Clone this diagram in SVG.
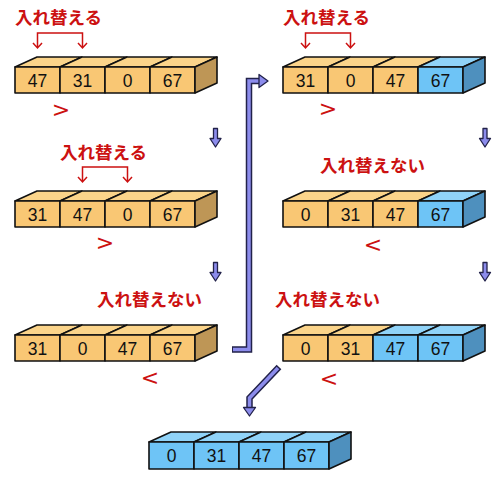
<svg xmlns="http://www.w3.org/2000/svg" xmlns:xlink="http://www.w3.org/1999/xlink" width="500" height="480" viewBox="0 0 500 480">
<style>
.fo{fill:#F9C774;stroke:#111;stroke-width:1.6;stroke-linejoin:round}
.to{fill:#FBD48A;stroke:#111;stroke-width:1.6;stroke-linejoin:round}
.so{fill:#BE9656;stroke:#111;stroke-width:1.6;stroke-linejoin:round}
.fb{fill:#6EC4F6;stroke:#111;stroke-width:1.6;stroke-linejoin:round}
.tb{fill:#90D3F8;stroke:#111;stroke-width:1.6;stroke-linejoin:round}
.sb{fill:#4E90BE;stroke:#111;stroke-width:1.6;stroke-linejoin:round}
.num{font-family:"Liberation Sans",Arial,sans-serif;font-size:17.5px;fill:#111;text-anchor:middle}
.lab{font-family:"Noto Sans CJK JP",sans-serif;font-size:17.5px;font-weight:bold;fill:#CC1111}
.cmp{font-family:"DejaVu Sans",sans-serif;font-size:22px;fill:#CC1111;text-anchor:middle}
.br{fill:none;stroke:#CC1111;stroke-width:1.5;stroke-linejoin:miter}
.pout{fill:none;stroke:#22224A;stroke-width:6.5;stroke-linejoin:miter}
.pin{fill:none;stroke:#8C8CEC;stroke-width:3.5;stroke-linejoin:miter}
.ph{fill:#8C8CEC;stroke:#22224A;stroke-width:1.3;stroke-linejoin:round}
</style>
<defs>
<path id="dn" class="ph" d="M-2,0 H2 V10 H5.5 L0,18.5 L-5.5,10 H-2 Z"/>
<path id="brk" class="br" d="M-22.5,15 V0 H22.5 V15 M-27,10 L-22.5,15 L-18,10 M18,10 L22.5,15 L27,10"/>
</defs>

<g id="arr-L1" transform="translate(15,67)">
<polygon class="to" points="0,0 22,-10 67,-10 45,0"/><polygon class="to" points="45,0 67,-10 112,-10 90,0"/><polygon class="to" points="90,0 112,-10 157,-10 135,0"/><polygon class="to" points="135,0 157,-10 202,-10 180,0"/>
<rect class="fo" x="0" y="0" width="45" height="26"/><rect class="fo" x="45" y="0" width="45" height="26"/><rect class="fo" x="90" y="0" width="45" height="26"/><rect class="fo" x="135" y="0" width="45" height="26"/>
<polygon class="so" points="180,0 202,-10 202,16 180,26"/>
<text class="num" x="22.5" y="20">47</text><text class="num" x="67.5" y="20">31</text><text class="num" x="112.5" y="20">0</text><text class="num" x="157.5" y="20">67</text>
</g>

<g id="arr-L2" transform="translate(15,201)">
<polygon class="to" points="0,0 22,-10 67,-10 45,0"/><polygon class="to" points="45,0 67,-10 112,-10 90,0"/><polygon class="to" points="90,0 112,-10 157,-10 135,0"/><polygon class="to" points="135,0 157,-10 202,-10 180,0"/>
<rect class="fo" x="0" y="0" width="45" height="26"/><rect class="fo" x="45" y="0" width="45" height="26"/><rect class="fo" x="90" y="0" width="45" height="26"/><rect class="fo" x="135" y="0" width="45" height="26"/>
<polygon class="so" points="180,0 202,-10 202,16 180,26"/>
<text class="num" x="22.5" y="20">31</text><text class="num" x="67.5" y="20">47</text><text class="num" x="112.5" y="20">0</text><text class="num" x="157.5" y="20">67</text>
</g>

<g id="arr-L3" transform="translate(15,335)">
<polygon class="to" points="0,0 22,-10 67,-10 45,0"/><polygon class="to" points="45,0 67,-10 112,-10 90,0"/><polygon class="to" points="90,0 112,-10 157,-10 135,0"/><polygon class="to" points="135,0 157,-10 202,-10 180,0"/>
<rect class="fo" x="0" y="0" width="45" height="26"/><rect class="fo" x="45" y="0" width="45" height="26"/><rect class="fo" x="90" y="0" width="45" height="26"/><rect class="fo" x="135" y="0" width="45" height="26"/>
<polygon class="so" points="180,0 202,-10 202,16 180,26"/>
<text class="num" x="22.5" y="20">31</text><text class="num" x="67.5" y="20">0</text><text class="num" x="112.5" y="20">47</text><text class="num" x="157.5" y="20">67</text>
</g>

<g id="arr-R1" transform="translate(283,67)">
<polygon class="to" points="0,0 22,-10 67,-10 45,0"/><polygon class="to" points="45,0 67,-10 112,-10 90,0"/><polygon class="to" points="90,0 112,-10 157,-10 135,0"/><polygon class="tb" points="135,0 157,-10 202,-10 180,0"/>
<rect class="fo" x="0" y="0" width="45" height="26"/><rect class="fo" x="45" y="0" width="45" height="26"/><rect class="fo" x="90" y="0" width="45" height="26"/><rect class="fb" x="135" y="0" width="45" height="26"/>
<polygon class="sb" points="180,0 202,-10 202,16 180,26"/>
<text class="num" x="22.5" y="20">31</text><text class="num" x="67.5" y="20">0</text><text class="num" x="112.5" y="20">47</text><text class="num" x="157.5" y="20">67</text>
</g>

<g id="arr-R2" transform="translate(283,201)">
<polygon class="to" points="0,0 22,-10 67,-10 45,0"/><polygon class="to" points="45,0 67,-10 112,-10 90,0"/><polygon class="to" points="90,0 112,-10 157,-10 135,0"/><polygon class="tb" points="135,0 157,-10 202,-10 180,0"/>
<rect class="fo" x="0" y="0" width="45" height="26"/><rect class="fo" x="45" y="0" width="45" height="26"/><rect class="fo" x="90" y="0" width="45" height="26"/><rect class="fb" x="135" y="0" width="45" height="26"/>
<polygon class="sb" points="180,0 202,-10 202,16 180,26"/>
<text class="num" x="22.5" y="20">0</text><text class="num" x="67.5" y="20">31</text><text class="num" x="112.5" y="20">47</text><text class="num" x="157.5" y="20">67</text>
</g>

<g id="arr-R3" transform="translate(283,335)">
<polygon class="to" points="0,0 22,-10 67,-10 45,0"/><polygon class="to" points="45,0 67,-10 112,-10 90,0"/><polygon class="tb" points="90,0 112,-10 157,-10 135,0"/><polygon class="tb" points="135,0 157,-10 202,-10 180,0"/>
<rect class="fo" x="0" y="0" width="45" height="26"/><rect class="fo" x="45" y="0" width="45" height="26"/><rect class="fb" x="90" y="0" width="45" height="26"/><rect class="fb" x="135" y="0" width="45" height="26"/>
<polygon class="sb" points="180,0 202,-10 202,16 180,26"/>
<text class="num" x="22.5" y="20">0</text><text class="num" x="67.5" y="20">31</text><text class="num" x="112.5" y="20">47</text><text class="num" x="157.5" y="20">67</text>
</g>

<g id="arr-final" transform="translate(149,442)">
<polygon class="tb" points="0,0 22,-10 67,-10 45,0"/><polygon class="tb" points="45,0 67,-10 112,-10 90,0"/><polygon class="tb" points="90,0 112,-10 157,-10 135,0"/><polygon class="tb" points="135,0 157,-10 202,-10 180,0"/>
<rect class="fb" x="0" y="0" width="45" height="27"/><rect class="fb" x="45" y="0" width="45" height="27"/><rect class="fb" x="90" y="0" width="45" height="27"/><rect class="fb" x="135" y="0" width="45" height="27"/>
<polygon class="sb" points="180,0 202,-10 202,17 180,27"/>
<text class="num" x="22.5" y="20">0</text><text class="num" x="67.5" y="20">31</text><text class="num" x="112.5" y="20">47</text><text class="num" x="157.5" y="20">67</text>
</g>

<g id="labels">
<text class="lab" x="15" y="24">入れ替える</text>
<text class="lab" x="283" y="24">入れ替える</text>
<text class="lab" x="60" y="159">入れ替える</text>
<text class="lab" x="320" y="172">入れ替えない</text>
<text class="lab" x="97" y="306">入れ替えない</text>
<text class="lab" x="275" y="306">入れ替えない</text>
<text class="cmp" x="61" y="117">&gt;</text>
<text class="cmp" x="105" y="250">&gt;</text>
<text class="cmp" x="150" y="385">&lt;</text>
<text class="cmp" x="328" y="116">&gt;</text>
<text class="cmp" x="373" y="252">&lt;</text>
<text class="cmp" x="329" y="386">&lt;</text>
</g>

<g id="connectors">
<use xlink:href="#brk" href="#brk" transform="translate(60,33)"/>
<use xlink:href="#brk" href="#brk" transform="translate(105,167)"/>
<use xlink:href="#brk" href="#brk" transform="translate(328,33)"/>
<use xlink:href="#dn" href="#dn" transform="translate(215.5,128.5)"/>
<use xlink:href="#dn" href="#dn" transform="translate(215.5,262.5)"/>
<use xlink:href="#dn" href="#dn" transform="translate(485,128.5)"/>
<use xlink:href="#dn" href="#dn" transform="translate(485,262.5)"/>
<path class="pout" d="M232,349.5 H249 V81 H261"/>
<path class="pin" d="M233,349.5 H249 V81 H262"/>
<path class="ph" d="M259,74.5 L268,81 L259,87.5 Z"/>
<path class="pout" d="M279,367 L249.5,398 V408"/>
<path class="pin" d="M278,368 L249.5,398 V409"/>
<path class="ph" d="M243.5,407.5 H255.5 L249.5,416 Z"/>
</g>
</svg>
